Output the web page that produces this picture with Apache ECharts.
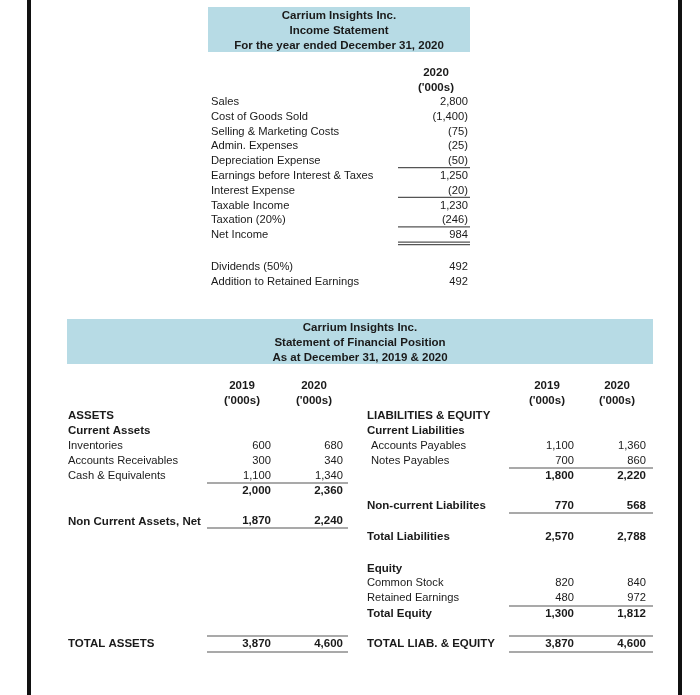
<!DOCTYPE html>
<html><head><meta charset="utf-8">
<script src="https://cdn.jsdelivr.net/npm/echarts@6/dist/echarts.min.js"></script>
<style>html,body{margin:0;padding:0;background:#fff}#c{width:700px;height:695px}</style>
</head><body><div id="c"></div>
<script>
// ---------- Data ----------
var isTitles = ["Carrium Insights Inc.", "Income Statement", "For the year ended December 31, 2020"];
var isHeader = ["2020", "('000s)"];
var isLabels = ["Sales", "Cost of Goods Sold", "Selling & Marketing Costs", "Admin. Expenses", "Depreciation Expense",
  "Earnings before Interest & Taxes", "Interest Expense", "Taxable Income", "Taxation (20%)", "Net Income"];
var isValues = [2800, -1400, -75, -25, -50, 1250, -20, 1230, -246, 984];
var divLabels = ["Dividends (50%)", "Addition to Retained Earnings"];
var divValues = [492, 492];

var bsTitles = ["Carrium Insights Inc.", "Statement of Financial Position", "As at December 31, 2019 & 2020"];
var bsYears = ["2019", "2020"];
var bsUnit = "('000s)";
var caLabels = ["Inventories", "Accounts Receivables", "Cash & Equivalents"];
var ca2019 = [600, 300, 1100];
var ca2020 = [680, 340, 1340];
var caTotal = [2000, 2360];
var ncaLabel = "Non Current Assets, Net";
var nca = [1870, 2240];
var totalAssets = [3870, 4600];
var clLabels = ["Accounts Payables", "Notes Payables"];
var cl2019 = [1100, 700];
var cl2020 = [1360, 860];
var clTotal = [1800, 2220];
var nclLabel = "Non-current Liabilites";
var ncl = [770, 568];
var totalLiab = [2570, 2788];
var eqLabels = ["Common Stock", "Retained Earnings"];
var eq2019 = [820, 480];
var eq2020 = [840, 972];
var eqTotal = [1300, 1812];
var totalLE = [3870, 4600];

// ---------- Rendering ----------
var FONT = '"Liberation Sans", Arial, sans-serif';
var FS = 11.2, FSB = 11.5;
var INK = '#1a1a1a';
var LINE = '#555';
var BLUE = '#b7dbe5';
function fmt(v) {
  var s = Math.abs(v).toLocaleString('en-US');
  return v < 0 ? '(' + s + ')' : s;
}
var els = [];
function txt(x, y, s, align, bold, color) {
  els.push({type: 'text', x: x, y: y, style: {text: s, font: (bold ? 'bold ' + FSB : FS) + 'px ' + FONT,
    fill: color || INK, textAlign: align || 'left', textVerticalAlign: 'middle'}});
}
function hline(x1, x2, y, w) {
  els.push({type: 'line', shape: {x1: x1, y1: y, x2: x2, y2: y}, style: {stroke: LINE, lineWidth: w || 1.2}});
}
function rect(x, y, w, h, c) {
  els.push({type: 'rect', shape: {x: x, y: y, width: w, height: h}, style: {fill: c}});
}

// page border lines
rect(27, 0, 4, 695, '#111');
rect(678, 0, 4, 695, '#111');

// Income statement header
rect(208, 7, 262, 45, BLUE);
isTitles.forEach(function (t, i) { txt(339, 16 + i * 15, t, 'center', true); });
txt(436, 73, isHeader[0], 'center', true);
txt(436, 88, isHeader[1], 'center', true);
var isY0 = 102, isStep = 14.8, isL = 211, isR = 468;
isLabels.forEach(function (l, i) {
  var y = isY0 + i * isStep;
  txt(isL, y, l, 'left', false);
  txt(isR, y, fmt(isValues[i]), 'right', false);
});
[4, 6, 8].forEach(function (i) { hline(398, 470, isY0 + i * isStep + 6.5); });
var netY = isY0 + 9 * isStep;
hline(398, 470, netY + 7, 1.2);
hline(398, 470, netY + 9.5, 1.2);
divLabels.forEach(function (l, i) {
  txt(isL, 267 + i * 15, l, 'left', false);
  txt(isR, 267 + i * 15, fmt(divValues[i]), 'right', false);
});

// Balance sheet header
rect(67, 319, 586, 45, BLUE);
bsTitles.forEach(function (t, i) { txt(360, 328 + i * 15, t, 'center', true); });
var colL = [242, 314], colR = [547, 617];
var vL = [271, 343], vR = [574, 646];
[0, 1].forEach(function (k) {
  txt(colL[k], 386, bsYears[k], 'center', true);
  txt(colL[k], 401, bsUnit, 'center', true);
  txt(colR[k], 386, bsYears[k], 'center', true);
  txt(colR[k], 401, bsUnit, 'center', true);
});

// Assets
var lx = 68, rowStep = 15;
txt(lx, 416, 'ASSETS', 'left', true);
txt(lx, 431, 'Current Assets', 'left', true);
caLabels.forEach(function (l, i) {
  var y = 446 + i * rowStep;
  txt(lx, y, l, 'left', false);
  txt(vL[0], y, fmt(ca2019[i]), 'right', false);
  txt(vL[1], y, fmt(ca2020[i]), 'right', false);
});
hline(207, 348, 483);
txt(vL[0], 491, fmt(caTotal[0]), 'right', true);
txt(vL[1], 491, fmt(caTotal[1]), 'right', true);
txt(lx, 522, ncaLabel, 'left', true);
txt(vL[0], 521, fmt(nca[0]), 'right', true);
txt(vL[1], 521, fmt(nca[1]), 'right', true);
hline(207, 348, 528);
txt(lx, 644, 'TOTAL ASSETS', 'left', true);
txt(vL[0], 644, fmt(totalAssets[0]), 'right', true);
txt(vL[1], 644, fmt(totalAssets[1]), 'right', true);
hline(207, 348, 636);
hline(207, 348, 652);

// Liabilities & equity
var rx = 367, rx2 = 371;
txt(rx, 416, 'LIABILITIES & EQUITY', 'left', true);
txt(rx, 431, 'Current Liabilities', 'left', true);
clLabels.forEach(function (l, i) {
  var y = 446 + i * rowStep;
  txt(rx2, y, l, 'left', false);
  txt(vR[0], y, fmt(cl2019[i]), 'right', false);
  txt(vR[1], y, fmt(cl2020[i]), 'right', false);
});
hline(509, 653, 468);
txt(vR[0], 476, fmt(clTotal[0]), 'right', true);
txt(vR[1], 476, fmt(clTotal[1]), 'right', true);
txt(rx, 506, nclLabel, 'left', true);
txt(vR[0], 506, fmt(ncl[0]), 'right', true);
txt(vR[1], 506, fmt(ncl[1]), 'right', true);
hline(509, 653, 513);
txt(rx, 537, 'Total Liabilities', 'left', true);
txt(vR[0], 537, fmt(totalLiab[0]), 'right', true);
txt(vR[1], 537, fmt(totalLiab[1]), 'right', true);
txt(rx, 569, 'Equity', 'left', true);
eqLabels.forEach(function (l, i) {
  var y = 583 + i * rowStep;
  txt(rx, y, l, 'left', false);
  txt(vR[0], y, fmt(eq2019[i]), 'right', false);
  txt(vR[1], y, fmt(eq2020[i]), 'right', false);
});
hline(509, 653, 606);
txt(rx, 614, 'Total Equity', 'left', true);
txt(vR[0], 614, fmt(eqTotal[0]), 'right', true);
txt(vR[1], 614, fmt(eqTotal[1]), 'right', true);
txt(rx, 644, 'TOTAL LIAB. & EQUITY', 'left', true);
txt(vR[0], 644, fmt(totalLE[0]), 'right', true);
txt(vR[1], 644, fmt(totalLE[1]), 'right', true);
hline(509, 653, 636);
hline(509, 653, 652);

var chart = echarts.init(document.getElementById('c'), null, {renderer: 'canvas'});
chart.setOption({animation: false, backgroundColor: '#fff', graphic: {elements: els}});
</script></body></html>
